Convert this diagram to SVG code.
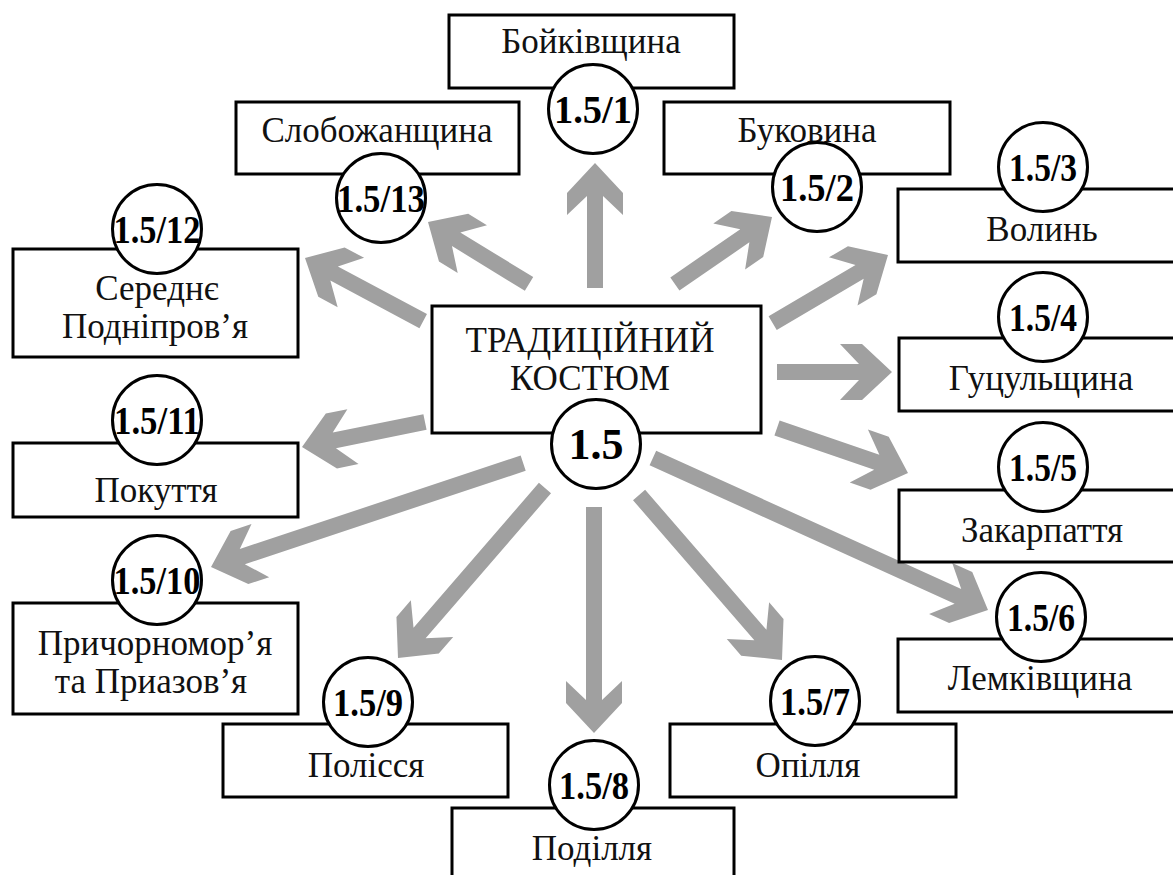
<svg xmlns="http://www.w3.org/2000/svg" width="1173" height="875" viewBox="0 0 1173 875">
<style>
.box{fill:#fff;stroke:#000;stroke-width:3}
.cir{fill:#fff;stroke:#000;stroke-width:3}
.lbl{font-size:35px;fill:#111;text-anchor:middle}
.num{font-size:41px;font-weight:bold;fill:#000;text-anchor:middle}
.arr{fill:#a0a0a0}
</style>
<rect width="1173" height="875" fill="#fff"/>
<g id="connectors">
<path class="arr" transform="translate(595,163) rotate(-90)" d="M0,0 L-30,-28 L-52,-28 L-33,-8 L-125,-8 L-125,8 L-33,8 L-52,28 L-30,28 Z"/>
<path class="arr" transform="translate(428,222) rotate(-148.5)" d="M0,0 L-30,-28 L-52,-28 L-33,-8 L-118.5,-8 L-118.5,8 L-33,8 L-52,28 L-30,28 Z"/>
<path class="arr" transform="translate(772,217) rotate(-34.6)" d="M0,0 L-30,-28 L-52,-28 L-33,-8 L-118,-8 L-118,8 L-33,8 L-52,28 L-30,28 Z"/>
<path class="arr" transform="translate(305,258) rotate(-151.9)" d="M0,0 L-30,-28 L-52,-28 L-33,-8 L-134,-8 L-134,8 L-33,8 L-52,28 L-30,28 Z"/>
<path class="arr" transform="translate(888,255) rotate(-30.6)" d="M0,0 L-30,-28 L-52,-28 L-33,-8 L-134,-8 L-134,8 L-33,8 L-52,28 L-30,28 Z"/>
<path class="arr" transform="translate(892,372) rotate(0)" d="M0,0 L-30,-28 L-52,-28 L-33,-8 L-115,-8 L-115,8 L-33,8 L-52,28 L-30,28 Z"/>
<path class="arr" transform="translate(908,473) rotate(18.96)" d="M0,0 L-30,-28 L-52,-28 L-33,-8 L-138.5,-8 L-138.5,8 L-33,8 L-52,28 L-30,28 Z"/>
<path class="arr" transform="translate(988,610) rotate(24.4)" d="M0,0 L-30,-28 L-52,-28 L-33,-8 L-368,-8 L-368,8 L-33,8 L-52,28 L-30,28 Z"/>
<path class="arr" transform="translate(302,447) rotate(168.5)" d="M0,0 L-30,-28 L-52,-28 L-33,-8 L-125.5,-8 L-125.5,8 L-33,8 L-52,28 L-30,28 Z"/>
<path class="arr" transform="translate(211,567) rotate(161.6)" d="M0,0 L-30,-28 L-52,-28 L-33,-8 L-329,-8 L-329,8 L-33,8 L-52,28 L-30,28 Z"/>
<path class="arr" transform="translate(398,658) rotate(130.85)" d="M0,0 L-30,-28 L-52,-28 L-33,-8 L-224.7,-8 L-224.7,8 L-33,8 L-52,28 L-30,28 Z"/>
<path class="arr" transform="translate(594,733) rotate(90)" d="M0,0 L-30,-28 L-52,-28 L-33,-8 L-226,-8 L-226,8 L-33,8 L-52,28 L-30,28 Z"/>
<path class="arr" transform="translate(782,660) rotate(49.1)" d="M0,0 L-30,-28 L-52,-28 L-33,-8 L-218.3,-8 L-218.3,8 L-33,8 L-52,28 L-30,28 Z"/>
</g>
<g font-family="'Liberation Serif', 'DejaVu Serif', serif">
<g id="n0">
<rect class="box" x="432" y="306" width="329" height="127"/>
<text class="lbl" x="590" y="352">ТРАДИЦІЙНИЙ</text>
<text class="lbl" x="590" y="390">КОСТЮМ</text>
<circle class="cir" cx="596" cy="444" r="44.5"/>
<text class="num" x="596" y="459" style="font-size:44px">1.5</text>
</g>
<g id="n1">
<rect class="box" x="449" y="15" width="285" height="73"/>
<text class="lbl" x="591" y="53">Бойківщина</text>
<circle class="cir" cx="593" cy="109" r="44.5"/>
<text class="num" x="593" y="123" textLength="78" lengthAdjust="spacingAndGlyphs">1.5/1</text>
</g>
<g id="n2">
<rect class="box" x="664" y="102" width="286" height="72"/>
<text class="lbl" x="807" y="142">Буковина</text>
<circle class="cir" cx="817" cy="187" r="44.5"/>
<text class="num" x="817" y="201" textLength="74" lengthAdjust="spacingAndGlyphs">1.5/2</text>
</g>
<g id="n3">
<rect class="box" x="898" y="189" width="290" height="73"/>
<text class="lbl" x="1042" y="241">Волинь</text>
<circle class="cir" cx="1043" cy="167" r="44.5"/>
<text class="num" x="1043" y="181" textLength="68" lengthAdjust="spacingAndGlyphs">1.5/3</text>
</g>
<g id="n4">
<rect class="box" x="899" y="338" width="290" height="73"/>
<text class="lbl" x="1041" y="390">Гуцульщина</text>
<circle class="cir" cx="1043" cy="317" r="44.5"/>
<text class="num" x="1043" y="331" textLength="68" lengthAdjust="spacingAndGlyphs">1.5/4</text>
</g>
<g id="n5">
<rect class="box" x="899" y="490" width="290" height="72"/>
<text class="lbl" x="1042" y="542">Закарпаття</text>
<circle class="cir" cx="1043" cy="467" r="44.5"/>
<text class="num" x="1043" y="481" textLength="68" lengthAdjust="spacingAndGlyphs">1.5/5</text>
</g>
<g id="n6">
<rect class="box" x="898" y="639" width="290" height="73"/>
<text class="lbl" x="1040" y="690">Лемківщина</text>
<circle class="cir" cx="1041" cy="617" r="44.5"/>
<text class="num" x="1041" y="631" textLength="68" lengthAdjust="spacingAndGlyphs">1.5/6</text>
</g>
<g id="n7">
<rect class="box" x="670" y="724" width="286" height="73"/>
<text class="lbl" x="808" y="777">Опілля</text>
<circle class="cir" cx="815" cy="701" r="44.5"/>
<text class="num" x="815" y="715" textLength="70" lengthAdjust="spacingAndGlyphs">1.5/7</text>
</g>
<g id="n8">
<rect class="box" x="452" y="808" width="282" height="80"/>
<text class="lbl" x="592" y="860">Поділля</text>
<circle class="cir" cx="594" cy="785" r="44.5"/>
<text class="num" x="594" y="799" textLength="70" lengthAdjust="spacingAndGlyphs">1.5/8</text>
</g>
<g id="n9">
<rect class="box" x="223" y="724" width="285" height="73"/>
<text class="lbl" x="366" y="777">Полісся</text>
<circle class="cir" cx="368" cy="702" r="44.5"/>
<text class="num" x="368" y="716" textLength="70" lengthAdjust="spacingAndGlyphs">1.5/9</text>
</g>
<g id="n10">
<rect class="box" x="13" y="603" width="285" height="111"/>
<text class="lbl" x="155" y="655">Причорномор’я</text>
<text class="lbl" x="151" y="693">та Приазов’я</text>
<circle class="cir" cx="157" cy="580" r="44.5"/>
<text class="num" x="157" y="594" textLength="87" lengthAdjust="spacingAndGlyphs">1.5/10</text>
</g>
<g id="n11">
<rect class="box" x="13" y="443" width="285" height="74"/>
<text class="lbl" x="156" y="502">Покуття</text>
<circle class="cir" cx="157" cy="420" r="44.5"/>
<text class="num" x="157" y="434" textLength="86" lengthAdjust="spacingAndGlyphs">1.5/11</text>
</g>
<g id="n12">
<rect class="box" x="13" y="249" width="285" height="108"/>
<text class="lbl" x="157" y="300">Середнє</text>
<text class="lbl" x="155" y="338">Подніпров’я</text>
<circle class="cir" cx="157" cy="229" r="44.5"/>
<text class="num" x="157" y="243" textLength="87" lengthAdjust="spacingAndGlyphs">1.5/12</text>
</g>
<g id="n13">
<rect class="box" x="236" y="102" width="283" height="72"/>
<text class="lbl" x="377" y="142">Слобожанщина</text>
<circle class="cir" cx="381" cy="198" r="44.5"/>
<text class="num" x="381" y="212" textLength="88" lengthAdjust="spacingAndGlyphs">1.5/13</text>
</g>
</g>
</svg>
